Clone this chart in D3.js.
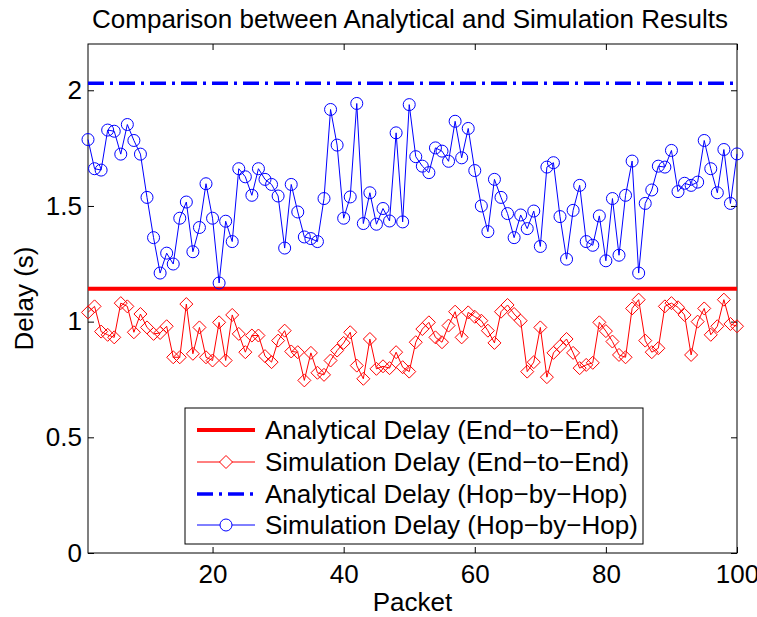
<!DOCTYPE html>
<html>
<head>
<meta charset="utf-8">
<script src="https://cdn.jsdelivr.net/npm/d3@7"></script>
<style>
  body { margin: 0; background: #fff; }
  svg { font-family: "Liberation Sans", Arial, Helvetica, sans-serif; }
  .axis path { display: none; }
  .axis line { stroke: #000; }
  .axis text { font-size: 26px; fill: #000; }
</style>
</head>
<body>
<div id="chart"></div>
<script>
/* global d3 */

var packets = d3.range(1, 101);

var simEndToEnd = [
  1.040, 1.066, 0.957, 0.943, 0.932, 1.080, 1.066, 0.954, 1.033, 0.975,
  0.947, 0.951, 0.980, 0.846, 0.846, 1.076, 0.861, 0.975, 0.846, 0.832,
  0.997, 0.832, 1.029, 0.947, 0.868, 0.940, 0.940, 0.851, 0.825, 0.918,
  0.961, 0.871, 0.868, 0.746, 0.865, 0.779, 0.770, 0.832, 0.875, 0.908,
  0.954, 0.810, 0.753, 0.925, 0.796, 0.807, 0.799, 0.868, 0.803, 0.784,
  0.911, 0.968, 0.997, 0.932, 0.911, 0.983, 1.043, 0.932, 1.040, 1.021,
  1.004, 0.961, 0.908, 1.043, 1.072, 1.033, 1.004, 0.784, 0.825, 0.975,
  0.760, 0.865, 0.894, 0.925, 0.865, 0.799, 0.813, 0.822, 0.997, 0.959,
  0.914, 0.856, 0.846, 1.057, 1.095, 0.918, 0.868, 0.885, 1.066, 1.080,
  1.062, 1.029, 0.856, 1.000, 1.057, 0.943, 0.980, 1.095, 0.990, 0.980
];

var simHopByHop = [
  1.787, 1.661, 1.655, 1.828, 1.823, 1.724, 1.852, 1.783, 1.724, 1.537,
  1.363, 1.210, 1.296, 1.249, 1.447, 1.517, 1.302, 1.407, 1.596, 1.447,
  1.167, 1.434, 1.346, 1.661, 1.626, 1.546, 1.661, 1.615, 1.593, 1.543,
  1.318, 1.593, 1.474, 1.366, 1.359, 1.346, 1.532, 1.917, 1.763, 1.447,
  1.539, 1.943, 1.424, 1.557, 1.421, 1.489, 1.435, 1.816, 1.431, 1.938,
  1.713, 1.672, 1.644, 1.751, 1.737, 1.693, 1.866, 1.708, 1.835, 1.653,
  1.500, 1.389, 1.615, 1.537, 1.467, 1.363, 1.461, 1.402, 1.478, 1.325,
  1.668, 1.687, 1.454, 1.270, 1.481, 1.589, 1.346, 1.330, 1.457, 1.263,
  1.532, 1.287, 1.546, 1.694, 1.210, 1.511, 1.569, 1.672, 1.668, 1.740,
  1.562, 1.598, 1.589, 1.603, 1.783, 1.661, 1.557, 1.744, 1.511, 1.725
];

var analyticalEndToEnd = 1.142;
var analyticalHopByHop = 2.03;

var xTicks = [20, 40, 60, 80, 100];
var yTicks = [0, 0.5, 1, 1.5, 2];

var legendLabels = [
  "Analytical Delay (End\u2212to\u2212End)",
  "Simulation Delay (End\u2212to\u2212End)",
  "Analytical Delay (Hop\u2212by\u2212Hop)",
  "Simulation Delay (Hop\u2212by\u2212Hop)"
];

var
  width = 757,
  height = 617,
  margin = { top: 44, right: 20, bottom: 64, left: 88 },
  innerWidth = width - margin.left - margin.right,
  innerHeight = height - margin.top - margin.bottom,
  red = "#ff0000",
  blue = "#0000ff";

var xScale = d3.scaleLinear().domain([1, 100]).range([0, innerWidth]);
var yScale = d3.scaleLinear().domain([0, 2.2]).range([innerHeight, 0]);

var svg = d3.select("#chart").append("svg")
  .attr("width", width)
  .attr("height", height);

svg.append("rect")
  .attr("width", width)
  .attr("height", height)
  .attr("fill", "#fff");

var g = svg.append("g")
  .attr("transform", "translate(" + margin.left + "," + margin.top + ")");

// Axes, ticks point inward like MATLAB
g.append("g")
  .attr("class", "x axis")
  .attr("transform", "translate(0," + innerHeight + ")")
  .call(d3.axisBottom(xScale).tickValues(xTicks).tickSizeInner(-6).tickSizeOuter(0).tickPadding(12));

g.append("g")
  .attr("class", "x axis top")
  .call(d3.axisTop(xScale).tickValues(xTicks).tickSizeInner(-6).tickSizeOuter(0).tickFormat(""));

g.append("g")
  .attr("class", "y axis")
  .call(d3.axisLeft(yScale).tickValues(yTicks).tickSizeInner(-6).tickSizeOuter(0).tickPadding(6)
    .tickFormat(d3.format("")));

g.append("g")
  .attr("class", "y axis right")
  .attr("transform", "translate(" + innerWidth + ",0)")
  .call(d3.axisRight(yScale).tickValues(yTicks).tickSizeInner(-6).tickSizeOuter(0).tickFormat(""));

g.append("rect")
  .attr("width", innerWidth)
  .attr("height", innerHeight)
  .attr("fill", "none")
  .attr("stroke", "#000")
  .attr("stroke-width", 1);

// Analytical lines
g.append("line")
  .attr("x1", 0).attr("x2", innerWidth)
  .attr("y1", yScale(analyticalHopByHop)).attr("y2", yScale(analyticalHopByHop))
  .attr("stroke", blue)
  .attr("stroke-width", 3.5)
  .attr("stroke-dasharray", "16,6,3,6");

g.append("line")
  .attr("x1", 0).attr("x2", innerWidth)
  .attr("y1", yScale(analyticalEndToEnd)).attr("y2", yScale(analyticalEndToEnd))
  .attr("stroke", red)
  .attr("stroke-width", 4);

var line = d3.line()
  .x(function (d, i) { return xScale(packets[i]); })
  .y(function (d) { return yScale(d); });

var diamond = "M0,-6.5L6.5,0L0,6.5L-6.5,0Z";

// Simulation end-to-end
g.append("path")
  .datum(simEndToEnd)
  .attr("d", line)
  .attr("fill", "none")
  .attr("stroke", red)
  .attr("stroke-width", 1);

g.selectAll(".diamond")
  .data(simEndToEnd)
  .enter().append("path")
  .attr("class", "diamond")
  .attr("transform", function (d, i) { return "translate(" + xScale(packets[i]) + "," + yScale(d) + ")"; })
  .attr("d", diamond)
  .attr("fill", "none")
  .attr("stroke", red)
  .attr("stroke-width", 1);

// Simulation hop-by-hop
g.append("path")
  .datum(simHopByHop)
  .attr("d", line)
  .attr("fill", "none")
  .attr("stroke", blue)
  .attr("stroke-width", 1);

g.selectAll(".circle")
  .data(simHopByHop)
  .enter().append("circle")
  .attr("class", "circle")
  .attr("cx", function (d, i) { return xScale(packets[i]); })
  .attr("cy", function (d) { return yScale(d); })
  .attr("r", 6)
  .attr("fill", "none")
  .attr("stroke", blue)
  .attr("stroke-width", 1);

// Title and axis labels
svg.append("text")
  .attr("x", 410)
  .attr("y", 28)
  .attr("text-anchor", "middle")
  .style("font-size", "26px")
  .text("Comparison between Analytical and Simulation Results");

svg.append("text")
  .attr("x", margin.left + innerWidth / 2)
  .attr("y", 611)
  .attr("text-anchor", "middle")
  .style("font-size", "26px")
  .text("Packet");

svg.append("text")
  .attr("transform", "translate(33," + (margin.top + innerHeight / 2) + ") rotate(-90)")
  .attr("text-anchor", "middle")
  .style("font-size", "26px")
  .text("Delay (s)");

// Legend
var legend = svg.append("g")
  .attr("transform", "translate(185,408)");

legend.append("rect")
  .attr("width", 458)
  .attr("height", 136)
  .attr("fill", "#fff")
  .attr("stroke", "#000")
  .attr("stroke-width", 1);

var rowY = [22, 54, 86, 117];

var items = legend.selectAll(".item")
  .data(legendLabels)
  .enter().append("g")
  .attr("class", "item")
  .attr("transform", function (d, i) { return "translate(0," + rowY[i] + ")"; });

items.append("text")
  .attr("x", 80)
  .attr("dy", "0.36em")
  .style("font-size", "26px")
  .text(function (d) { return d; });

items.append("line")
  .attr("x1", 12).attr("x2", 70)
  .attr("stroke", function (d, i) { return i < 2 ? red : blue; })
  .attr("stroke-width", function (d, i) { return i === 0 ? 4 : i === 2 ? 3.5 : 1; })
  .attr("stroke-dasharray", function (d, i) { return i === 2 ? "16,6,3,6" : null; });

items.filter(function (d, i) { return i === 1; })
  .append("path")
  .attr("transform", "translate(41,0)")
  .attr("d", diamond)
  .attr("fill", "#fff")
  .attr("stroke", red);

items.filter(function (d, i) { return i === 3; })
  .append("circle")
  .attr("cx", 41)
  .attr("r", 6)
  .attr("fill", "#fff")
  .attr("stroke", blue);
</script>
</body>
</html>
